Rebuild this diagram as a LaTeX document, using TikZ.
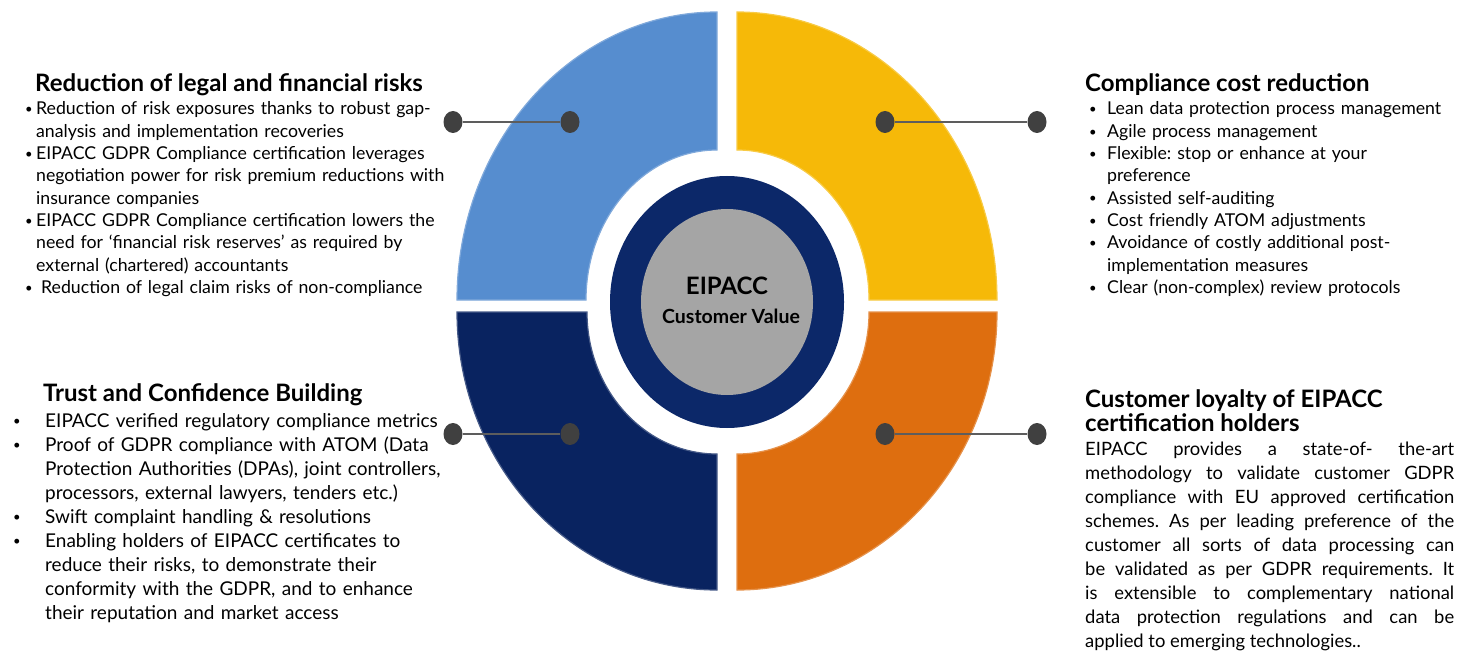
\documentclass[tikz,border=0pt]{standalone}
\usepackage{fontspec}
\setmainfont{Lato}
\usetikzlibrary{positioning,shapes.geometric}
\definecolor{quadblue}{HTML}{568DCF}
\definecolor{quadyellow}{HTML}{F6B908}
\definecolor{quadnavy}{HTML}{092360}
\definecolor{quadorange}{HTML}{DE6E0F}
\definecolor{ringnavy}{HTML}{0C2869}
\definecolor{hubgray}{HTML}{A5A5A5}
\definecolor{dotgray}{HTML}{404040}
\newcommand{\bitem}[2]{\hangindent=#1\hangafter=1\noindent\makebox[#1][l]{\raisebox{1.2pt}{\fontsize{13}{13}\selectfont\textbullet}}#2\par}
\tikzset{
  quad/.style={fill=#1, draw=#1!75!white, line width=1.2pt},
  dot/.style={ellipse, fill=dotgray, minimum width=19pt, minimum height=22pt, inner sep=0pt},
  link/.style={draw=dotgray!85!white, line width=1.6pt},
  heading/.style={anchor=base west, inner sep=0pt, align=left, font=\fontsize{24}{24}\selectfont\bfseries},
  body/.style={anchor=base west, inner sep=0pt, align=left, text width=#1, font=\fontsize{17.7}{22.3}\selectfont\frenchspacing},
  wide/.style={font=\fontsize{#1}{24}\selectfont\frenchspacing},
  hubtext/.style={inner sep=0pt},
}
\begin{document}
\begin{tikzpicture}[x=1pt,y=1pt]
\useasboundingbox (0,0) rectangle (1469,-655);
% four quarter rings
\filldraw[quad=quadblue] (457,-300) arc[start angle=180,end angle=90,x radius=260,y radius=288] -- (717,-150) arc[start angle=90,end angle=180,x radius=131,y radius=150] -- cycle;
\filldraw[quad=quadyellow] (737,-12) arc[start angle=90,end angle=0,x radius=260,y radius=288] -- (869,-300) arc[start angle=0,end angle=90,x radius=132,y radius=150] -- cycle;
\filldraw[quad=quadnavy] (457,-312) arc[start angle=180,end angle=270,x radius=260,y radius=278] -- (717,-454) arc[start angle=270,end angle=180,x radius=130,y radius=142] -- cycle;
\filldraw[quad=quadorange] (997,-312) arc[start angle=0,end angle=-90,x radius=260,y radius=278] -- (737,-454) arc[start angle=-90,end angle=0,x radius=132,y radius=142] -- cycle;
% hub
\node[ellipse, fill=ringnavy, minimum width=234pt, minimum height=252pt] (hub) at (727,-302) {};
\node[ellipse, fill=hubgray, minimum width=172pt, minimum height=186pt] (core) at (hub) {};
\node[hubtext, font=\fontsize{24}{26}\selectfont\bfseries] (hubname) at (727,-286) {EIPACC};
\node[hubtext, font=\fontsize{19.5}{22}\selectfont\bfseries] (hubvalue) at (731,-316) {Customer Value};
% connector dots
\node[dot] (tlout) at (453,-122) {};
\node[dot] (tlin) at (570,-122) {};
\node[dot] (trin) at (885,-122) {};
\node[dot] (trout) at (1037,-122) {};
\node[dot] (blout) at (453,-434) {};
\node[dot] (blin) at (570,-434) {};
\node[dot] (brin) at (885,-434) {};
\node[dot] (brout) at (1037,-434) {};
\draw[link] (tlout) -- (tlin);
\draw[link] (trin) -- (trout);
\draw[link] (blout) -- (blin);
\draw[link] (brin) -- (brout);
% top left
\node[heading] (risktitle) at (35,-92) {Reduction of legal and financial risks};
\node[body=430pt] (risklist) at (25,-115) {%
\bitem{11pt}{Reduction of risk exposures thanks to robust gap-\newline analysis and implementation recoveries}
\bitem{11pt}{EIPACC GDPR Compliance certification leverages\newline negotiation power for risk premium reductions with\newline insurance companies}
\bitem{11pt}{EIPACC GDPR Compliance certification lowers the\newline need for `financial risk reserves' as required by\newline external (chartered) accountants}
\bitem{16pt}{Reduction of legal claim risks of non-compliance}};
% top right
\node[heading] (costtitle) at (1085,-92) {Compliance cost reduction};
\node[body=370pt] (costlist) at (1089,-115) {%
\bitem{18pt}{Lean data protection process management}
\bitem{18pt}{Agile process management}
\bitem{18pt}{Flexible: stop or enhance at your\newline preference}
\bitem{18pt}{Assisted self-auditing}
\bitem{18pt}{Cost friendly ATOM adjustments}
\bitem{18pt}{Avoidance of costly additional post-\newline implementation measures}
\bitem{18pt}{Clear (non-complex) review protocols}};
% bottom left
\node[heading] (trusttitle) at (43,-401) {Trust and Confidence Building};
\node[body=460pt, wide=19] (trustlist) at (13,-427) {%
\bitem{32pt}{EIPACC verified regulatory compliance metrics}
\bitem{32pt}{Proof of GDPR compliance with ATOM (Data\newline Protection Authorities (DPAs), joint controllers,\newline processors, external lawyers, tenders etc.)}
\bitem{32pt}{Swift complaint handling \& resolutions}
\bitem{32pt}{Enabling holders of EIPACC certificates to\newline reduce their risks, to demonstrate their\newline conformity with the GDPR, and to enhance\newline their reputation and market access}};
% bottom right
\node[heading] (loyaltitle) at (1085,-431) {Customer loyalty of EIPACC\\certification holders};
\node[body=369pt, wide=18.4, align=justify] (loyaltext) at (1085,-455) {\hyphenpenalty=10000\exhyphenpenalty=10000
EIPACC provides a state-of- the-art\linebreak
methodology to validate customer GDPR\linebreak
compliance with EU approved certification\linebreak
schemes. As per leading preference of the\linebreak
customer all sorts of data processing can\linebreak
be validated as per GDPR requirements. It\linebreak
is extensible to complementary national\linebreak
data protection regulations and can be\linebreak
applied to emerging technologies..};
\end{tikzpicture}
\end{document}
